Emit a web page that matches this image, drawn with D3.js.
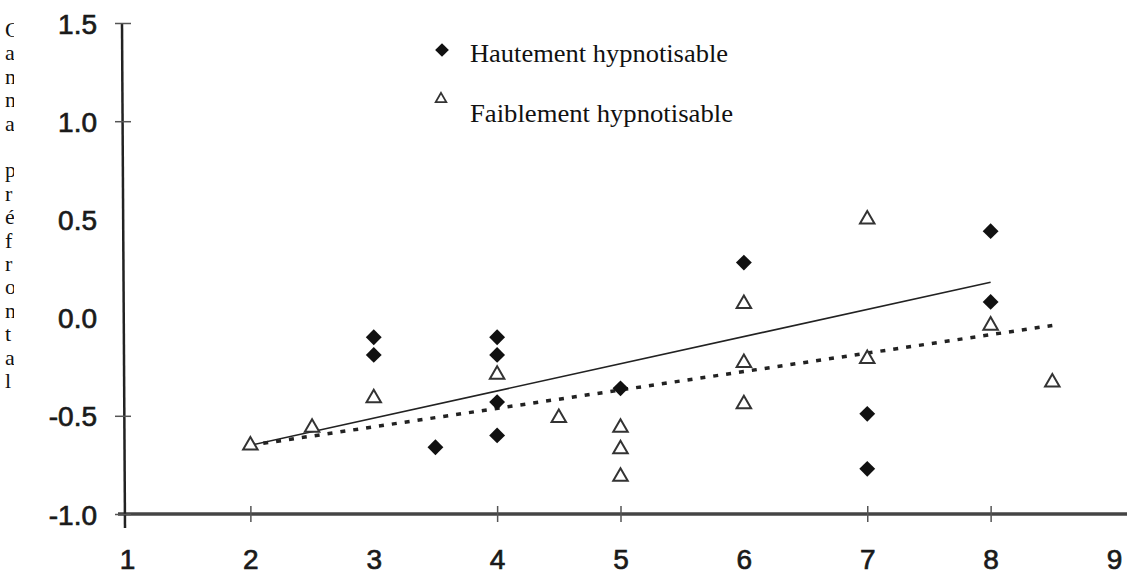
<!DOCTYPE html>
<html>
<head>
<meta charset="utf-8">
<script src="https://cdn.jsdelivr.net/npm/d3@7"></script>
<style>
  body { margin: 0; background: #fff; }
  svg { display: block; }
</style>
</head>
<body>
<svg></svg>
<script>
// canvas size
let width = 1132
let height = 576

// data
const highX = [3, 3, 3.5, 4, 4, 4, 4, 5, 6, 7, 7, 8, 8]
const highY = [-0.10, -0.19, -0.66, -0.10, -0.19, -0.43, -0.60, -0.36, 0.28, -0.49, -0.77, 0.44, 0.08]
const lowX = [2, 2.5, 3, 4, 4.5, 5, 5, 5, 6, 6, 6, 7, 7, 8, 8.5]
const lowY = [-0.65, -0.56, -0.41, -0.29, -0.51, -0.56, -0.67, -0.81, 0.07, -0.23, -0.44, 0.50, -0.21, -0.04, -0.33]

// fitted lines
const highFitX = [2, 8]
const highFitY = [-0.65, 0.18]
const lowFitX = [2, 8.5]
const lowFitY = [-0.65, -0.04]

// ticks
const xTicks = [1, 2, 3, 4, 5, 6, 7, 8, 9]
const yTicks = [-1, -0.5, 0, 0.5, 1, 1.5]
const xTickMarks = [2, 4, 5, 7, 8]
const yTickMarks = [-1, -0.5, 1, 1.5]

const legendLabels = ['Hautement hypnotisable', 'Faiblement hypnotisable']
const yTitle = 'Canna préfrontal'

let svg = d3.select('svg')
svg.attr('width', width).attr('height', height)

// scales
let xScale = d3.scaleLinear().domain([1, 9]).range([127, 1114])
let yScale = d3.scaleLinear().domain([-1, 1.5]).range([514, 23])

// axis title, letters stacked and clipped at the left edge
svg.append('clipPath').attr('id', 'cut')
  .append('rect').attr('x', 0).attr('y', 0).attr('width', 14).attr('height', height)
let title = svg.append('g').attr('clip-path', 'url(#cut)')
yTitle.split('').forEach((ch, i) => {
  if (ch === ' ') return
  title.append('text')
    .attr('x', 5)
    .attr('y', 37 + i * 23.4)
    .style('font-family', '"Liberation Serif", "Times New Roman", serif')
    .style('font-size', '22px')
    .attr('fill', '#111')
    .text(ch)
})

// axis lines
svg.append('line')
  .attr('x1', 118).attr('x2', 1127)
  .attr('y1', yScale(-1)).attr('y2', yScale(-1))
  .attr('stroke', '#444').attr('stroke-width', 3.5)
svg.append('line')
  .attr('x1', 122).attr('x2', 125)
  .attr('y1', yScale(1.5)).attr('y2', 528)
  .attr('stroke', '#222').attr('stroke-width', 2.5)

// tick labels
let fmt = d => d.toFixed(1)
let xAxis = d3.axisBottom(xScale).tickValues(xTicks).tickSize(0).tickPadding(35).tickFormat(d3.format('d'))
let yAxis = d3.axisLeft(yScale).tickValues(yTicks).tickSize(0).tickPadding(25).tickFormat(fmt)

let gx = svg.append('g').attr('transform', 'translate(0,' + yScale(-1) + ')').call(xAxis)
let gy = svg.append('g').attr('transform', 'translate(122,0)').call(yAxis)
;[gx, gy].forEach(g => {
  g.select('.domain').remove()
  g.selectAll('text')
    .style('font-family', '"Liberation Sans", Arial, sans-serif')
    .style('font-size', '28px')
    .attr('fill', '#1a1a1a')
    .attr('stroke', '#1a1a1a')
    .attr('stroke-width', 0.7)
})
gy.selectAll('text').attr('dy', '0.36em')

// tick marks crossing the axes
let xMarks = d3.axisBottom(xScale).tickValues(xTickMarks).tickSize(16).tickFormat('')
let gxm = svg.append('g').attr('transform', 'translate(0,' + (yScale(-1) - 8) + ')').call(xMarks)
let yMarks = d3.axisLeft(yScale).tickValues(yTickMarks).tickSize(16).tickFormat('')
let gym = svg.append('g').attr('transform', 'translate(131,0)').call(yMarks)
;[gxm, gym].forEach(g => {
  g.select('.domain').remove()
  g.selectAll('line').attr('stroke', '#555').attr('stroke-width', 1.5)
})

// fitted lines
let line = d3.line().x(d => xScale(d[0])).y(d => yScale(d[1]))
svg.append('path')
  .datum(d3.zip(highFitX, highFitY))
  .attr('d', line)
  .attr('fill', 'none').attr('stroke', '#222').attr('stroke-width', 1.6)
svg.append('path')
  .datum(d3.zip(lowFitX, lowFitY))
  .attr('d', line)
  .attr('fill', 'none').attr('stroke', '#222').attr('stroke-width', 3.5)
  .attr('stroke-dasharray', '5,8')

// markers
let diamond = d3.symbol().type(d3.symbolDiamond2).size(160)
let triangle = d3.symbol().type(d3.symbolTriangle2).size(150)

svg.append('g').selectAll('path')
  .data(d3.zip(highX, highY))
  .enter()
  .append('path')
  .attr('d', diamond)
  .attr('transform', d => 'translate(' + xScale(d[0]) + ',' + yScale(d[1]) + ')')
  .attr('fill', '#111')

svg.append('g').selectAll('path')
  .data(d3.zip(lowX, lowY))
  .enter()
  .append('path')
  .attr('d', triangle)
  .attr('transform', d => 'translate(' + xScale(d[0]) + ',' + yScale(d[1]) + ')')
  .attr('fill', '#fff').attr('stroke', '#333').attr('stroke-width', 2)

// legend
let legend = svg.append('g')
legend.append('path').attr('d', d3.symbol().type(d3.symbolDiamond2).size(120))
  .attr('transform', 'translate(442,50)').attr('fill', '#111')
legend.append('path').attr('d', d3.symbol().type(d3.symbolTriangle2).size(80))
  .attr('transform', 'translate(441,99)').attr('fill', '#fff').attr('stroke', '#333').attr('stroke-width', 1.8)
legendLabels.forEach((t, i) => {
  legend.append('text')
    .attr('x', 470)
    .attr('y', 62 + i * 60)
    .attr('textLength', i === 0 ? 258 : 263)
    .attr('lengthAdjust', 'spacingAndGlyphs')
    .style('font-family', '"Liberation Serif", "Times New Roman", serif')
    .style('font-size', '25px')
    .attr('fill', '#111')
    .text(t)
})
</script>
</body>
</html>
